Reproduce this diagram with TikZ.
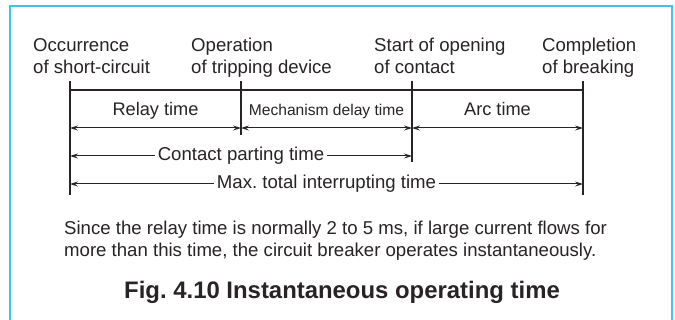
\documentclass[tikz,border=0pt]{standalone}
\usepackage{fontspec}
\setmainfont{Liberation Sans}
\usetikzlibrary{arrows.meta}
\frenchspacing
\definecolor{ink}{RGB}{40,36,37}
\definecolor{framec}{RGB}{64,193,244}
\tikzset{
  lbl/.style={anchor=base west,inner sep=0pt,text=ink,font=\fontsize{18.6}{22}\selectfont},
  seglbl/.style={anchor=base,inner sep=0pt,text=ink,font=\fontsize{18.2}{22}\selectfont},
  smalllbl/.style={anchor=base,inner sep=0pt,text=ink,font=\fontsize{15.6}{19}\selectfont},
  tick/.style={draw=ink,line width=1.1pt},
  dimarr/.style={draw=ink,line width=1pt,{Stealth[length=8pt,width=5pt,inset=3pt]}-{Stealth[length=8pt,width=5pt,inset=3pt]}},
  spanlbl/.style={fill=white,inner sep=3pt,text=ink,font=\fontsize{18.6}{22}\selectfont},
}
\begin{document}
\begin{tikzpicture}[x=1pt,y=-1pt]
\useasboundingbox (0,0) rectangle (675,320);
\fill[white] (0,0) rectangle (675,320);
% frame
\draw[framec,line width=2.6pt] (10,322) -- (10,6) -- (672,6) -- (672,322);
% event labels
\node[lbl] (occ1) at (33,52) {Occurrence};
\node[lbl] (occ2) at (33,74) {of short-circuit};
\node[lbl] (op1) at (191,52) {Operation};
\node[lbl] (op2) at (191,74) {of tripping device};
\node[lbl] (st1) at (374,52) {Start of opening};
\node[lbl] (st2) at (374,74) {of contact};
\node[lbl] (co1) at (542,52) {Completion};
\node[lbl] (co2) at (542,74) {of breaking};
% tick coordinates
\coordinate (t1) at (70,81);  \coordinate (b1) at (70,195);
\coordinate (t2) at (241,81); \coordinate (b2) at (241,135);
\coordinate (t3) at (412,81); \coordinate (b3) at (412,162);
\coordinate (t4) at (583,81); \coordinate (b4) at (583,195);
\coordinate (h1) at (70,90);  \coordinate (h4) at (583,90);
\draw[tick] (t1) -- (b1);
\draw[tick] (t2) -- (b2);
\draw[tick] (t3) -- (b3);
\draw[tick] (t4) -- (b4);
\draw[tick] (h1) -- (h4);
% segment labels
\node[seglbl] (relay) at (155.5,116) {Relay time};
\node[smalllbl] (mech) at (326.5,116) {Mechanism delay time};
\node[seglbl] (arc) at (497.5,116) {Arc time};
% segment arrows
\coordinate (a1) at (70,128);  \coordinate (a2) at (241,128);
\coordinate (a3) at (412,128); \coordinate (a4) at (583,128);
\draw[dimarr] (a1) -- (a2);
\draw[dimarr] (a2) -- (a3);
\draw[dimarr] (a3) -- (a4);
% spans
\coordinate (c1) at (70,156); \coordinate (c3) at (412,156);
\draw[dimarr] (c1) -- node[spanlbl] (cpt) {Contact parting time} (c3);
\coordinate (m1) at (70,184); \coordinate (m4) at (583,184);
\draw[dimarr] (m1) -- node[spanlbl] (mti) {Max. total interrupting time} (m4);
% note
\node[lbl] (note1) at (64,235) {Since the relay time is normally 2 to 5 ms, if large current flows for};
\node[lbl] (note2) at (64,257) {more than this time, the circuit breaker operates instantaneously.};
% caption
\node[anchor=base,inner sep=0pt,text=ink,font=\fontsize{23.9}{28}\selectfont\bfseries] (cap) at (342,299) {Fig. 4.10 Instantaneous operating time};
\end{tikzpicture}
\end{document}
